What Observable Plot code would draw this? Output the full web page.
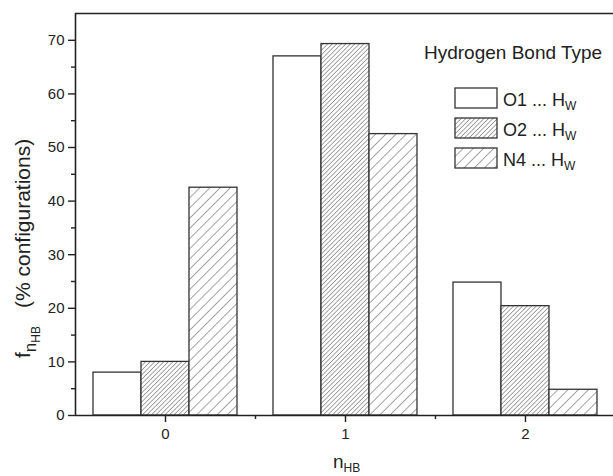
<!DOCTYPE html>
<html>
<head>
<meta charset="utf-8">
<script src="https://cdn.jsdelivr.net/npm/d3@7"></script>
<script src="https://cdn.jsdelivr.net/npm/@observablehq/plot@0.6"></script>
<style>
  html, body { margin: 0; padding: 0; background: white; }
  #chart { position: relative; width: 613px; height: 476px; overflow: hidden; }
</style>
</head>
<body>
<svg width="0" height="0" style="position:absolute">
  <defs>
    <pattern id="hatchDense" patternUnits="userSpaceOnUse" width="3.2" height="3.2" patternTransform="rotate(45)">
      <rect width="3.2" height="3.2" fill="white"></rect>
      <line x1="0" y1="0" x2="0" y2="3.2" stroke="#3a3a3a" stroke-width="0.9"></line>
    </pattern>
    <pattern id="hatchSparse" patternUnits="userSpaceOnUse" width="7.2" height="7.2" patternTransform="rotate(45)">
      <rect width="7.2" height="7.2" fill="white"></rect>
      <line x1="0" y1="0" x2="0" y2="7.2" stroke="#3a3a3a" stroke-width="0.9"></line>
    </pattern>
  </defs>
</svg>
<div id="chart"></div>
<script>
// ---- data ----
const categories = [0, 1, 2];
const seriesNames = ["O1", "O2", "N4"];
const o1Values = [8.0, 67.0, 24.8];
const o2Values = [10.0, 69.3, 20.4];
const n4Values = [42.5, 52.5, 4.8];
const yTicks = [0, 10, 20, 30, 40, 50, 60, 70];
const yMinorTicks = [5, 15, 25, 35, 45, 55, 65];
const xTicks = [0, 1, 2];
const xMinorTicks = [0.5, 1.5];

const fills = ["white", "url(#hatchDense)", "url(#hatchSparse)"];
const seriesValues = [o1Values, o2Values, n4Values];
const groupWidth = 0.8;
const barW = groupWidth / seriesNames.length;

const data = [];
categories.forEach((n, ci) => {
  seriesValues.forEach((vals, si) => {
    data.push({n, si, v: vals[ci]});
  });
});

const ink = "#222";

const plot = Plot.plot({
  width: 613,
  height: 476,
  marginLeft: 75,
  marginRight: 0,
  marginTop: 13,
  marginBottom: 61,
  style: {fontFamily: "'Liberation Sans', Arial, sans-serif", fontSize: "15px", color: ink, background: "white"},
  x: {domain: [-0.5, 2.489], label: null},
  y: {domain: [0, 75], label: null},
  marks: [
    Plot.rectY(data, {
      x1: d => d.n - groupWidth / 2 + d.si * barW,
      x2: d => d.n - groupWidth / 2 + (d.si + 1) * barW,
      y: "v",
      fill: d => fills[d.si],
      stroke: "#333",
      strokeWidth: 1.3
    }),
    Plot.ruleY([0], {stroke: ink, strokeWidth: 1.6}),
    Plot.ruleY([75], {stroke: ink, strokeWidth: 1.6}),
    Plot.ruleX([-0.5], {stroke: ink, strokeWidth: 1.6}),
    Plot.axisY(yTicks, {tickSize: 7, tickPadding: 4, tickFormat: d3.format("d"), label: null, fontSize: 15, stroke: ink, strokeWidth: 1.4}),
    Plot.axisY(yMinorTicks, {tickSize: 4, tickFormat: () => "", label: null, stroke: ink, strokeWidth: 1.4}),
    Plot.axisX(xTicks, {tickSize: 7, tickPadding: 6, tickFormat: d3.format("d"), label: null, fontSize: 15, stroke: ink, strokeWidth: 1.4}),
    Plot.axisX(xMinorTicks, {tickSize: 4, tickFormat: () => "", label: null, stroke: ink, strokeWidth: 1.4})
  ]
});

document.getElementById("chart").appendChild(plot);

// ---- axis titles and legend (text, not data marks) ----
const svg = d3.select(plot);
const font = "'Liberation Sans', Arial, sans-serif";

// y-axis title: f_{n_{HB}} (% configurations)
const yl = svg.append("text")
  .attr("transform", "translate(30,358) rotate(-90)")
  .attr("text-anchor", "start")
  .attr("font-family", font)
  .attr("fill", ink)
  .attr("font-size", 21);
yl.append("tspan").text("f");
yl.append("tspan").attr("dy", 6).attr("font-size", 17).text("n");
yl.append("tspan").attr("dy", 4).attr("font-size", 12).text("HB");
yl.append("tspan").attr("dy", -10).attr("dx", 18).text("(% configurations)");

// x-axis title: n_HB
const xl = svg.append("text")
  .attr("x", 333).attr("y", 468)
  .attr("text-anchor", "start")
  .attr("font-family", font)
  .attr("fill", ink)
  .attr("font-size", 19);
xl.append("tspan").text("n");
xl.append("tspan").attr("dy", 4).attr("font-size", 12).text("HB");

// legend
const lg = svg.append("g").attr("font-family", font).attr("fill", ink).attr("text-anchor", "start");
lg.append("text").attr("x", 424).attr("y", 59).attr("font-size", 19).text("Hydrogen Bond Type");
seriesNames.forEach((name, i) => {
  const y0 = 88 + i * 30;
  lg.append("rect")
    .attr("x", 455).attr("y", y0).attr("width", 42).attr("height", 20)
    .attr("fill", fills[i]).attr("stroke", "#333").attr("stroke-width", 1.3);
  const t = lg.append("text").attr("x", 503).attr("y", y0 + 18).attr("font-size", 18);
  t.append("tspan").text(name + " ... H");
  t.append("tspan").attr("dy", 4).attr("font-size", 12).text("W");
});
</script>
</body>
</html>
